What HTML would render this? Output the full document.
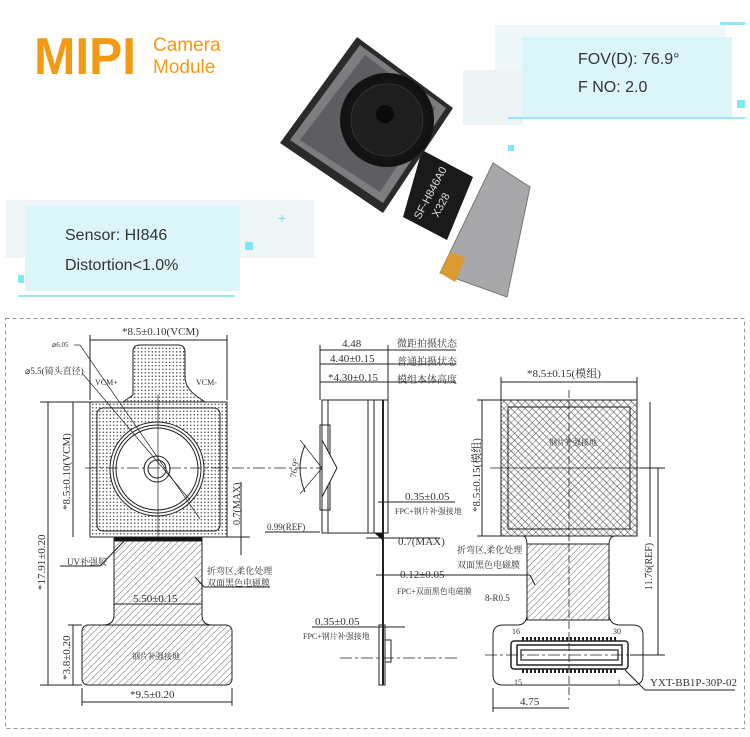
<!DOCTYPE html>
<html><head><meta charset="utf-8"><style>
html,body{margin:0;padding:0;background:#fff;}
svg{display:block}
.s{font-family:"Liberation Serif","Noto Serif CJK SC",serif;fill:#333;}
</style></head><body>
<svg width="750" height="737" viewBox="0 0 750 737" xmlns="http://www.w3.org/2000/svg">
<defs>
<pattern id="dots" width="3.5" height="3.5" patternUnits="userSpaceOnUse"><rect width="4" height="4" fill="#fff"/><circle cx="1.75" cy="1.75" r="0.8" fill="#555"/></pattern>
<pattern id="hatch" width="4.5" height="4.5" patternUnits="userSpaceOnUse" patternTransform="rotate(45)"><rect width="5" height="5" fill="#fff"/><line x1="0" y1="0" x2="0" y2="5" stroke="#444" stroke-width="0.8"/></pattern>
<pattern id="xhatch" width="5" height="5" patternUnits="userSpaceOnUse" patternTransform="rotate(45)"><rect width="6" height="6" fill="#fff"/><line x1="0" y1="0" x2="0" y2="6" stroke="#444" stroke-width="0.8"/><line x1="0" y1="2.5" x2="6" y2="2.5" stroke="#444" stroke-width="0.6"/></pattern>
<radialGradient id="lens" cx="0.5" cy="0.5" r="0.5"><stop offset="0" stop-color="#222"/><stop offset="1" stop-color="#111"/></radialGradient>
</defs>
<rect width="750" height="737" fill="#fff"/>

<text x="34" y="74" font-family="Liberation Sans,sans-serif" font-weight="bold" font-size="52" fill="#f39a12" textLength="102" lengthAdjust="spacingAndGlyphs">MIPI</text>
<text x="153" y="51" font-family="Liberation Sans,sans-serif" font-size="19" fill="#f39a12">Camera</text>
<text x="153" y="73" font-family="Liberation Sans,sans-serif" font-size="19" fill="#f39a12">Module</text>

<rect x="495" y="25" width="230" height="85" fill="#eef8fb"/>
<rect x="463" y="70" width="60" height="55" fill="#eef3f5"/>
<rect x="522" y="37" width="210" height="80" fill="#dcf5f9"/>
<line x1="508" y1="118" x2="745" y2="118" stroke="#7fe0f0" stroke-width="1.5"/>
<rect x="720" y="22" width="25" height="3" fill="#8ee8f5"/>
<rect x="737" y="100" width="8" height="8" fill="#7fe8f8"/>
<rect x="508" y="145" width="6" height="6" fill="#7fe8f8"/>
<text x="578" y="64" font-family="Liberation Sans,sans-serif" font-size="16" fill="#333">FOV(D): 76.9°</text>
<text x="578" y="92" font-family="Liberation Sans,sans-serif" font-size="16" fill="#333">F NO: 2.0</text>

<rect x="5" y="200" width="310" height="58" fill="#f0f5f7"/>
<rect x="25" y="206" width="215" height="85" fill="#dcf5f9"/>
<line x1="18" y1="296" x2="235" y2="296" stroke="#7fe0f0" stroke-width="1.5"/>
<rect x="245" y="242" width="8" height="8" fill="#7fe8f8"/>
<rect x="18" y="275" width="6" height="8" fill="#7fe8f8"/>
<text x="278" y="223" font-family="Liberation Sans,sans-serif" font-size="14" fill="#7fd8ee">+</text>
<text x="65" y="240" font-family="Liberation Sans,sans-serif" font-size="16" fill="#333">Sensor: HI846</text>
<text x="65" y="270" font-family="Liberation Sans,sans-serif" font-size="16" fill="#333">Distortion&lt;1.0%</text>

<polygon points="440,273 493,163 530,187 507,297" fill="#a8a8aa" stroke="#777" stroke-width="1"/>
<polygon points="440,273 450,252 465,258 455,282" fill="#d99a30"/>
<polygon points="403,217 422,150 473,177 447,240" fill="#1a1a1a"/>
<polygon points="357,37 453,108 383,213 280,143" fill="#2a2a2a"/>
<polygon points="360,45 446,108 383,203 290,140" fill="#7d7d80"/>
<polygon points="365,55 436,108 380,192 300,140" fill="#5e5e62"/>
<circle cx="387" cy="120" r="47" fill="url(#lens)"/>
<circle cx="387" cy="120" r="36" fill="#1e1e1e" stroke="#333"/>
<circle cx="385" cy="114" r="9" fill="#0a0a0a"/>
<text x="0" y="0" transform="translate(420,220) rotate(-62)" font-family="Liberation Sans,sans-serif" font-size="11" fill="#ddd">SF-H846A0</text>
<text x="0" y="0" transform="translate(438,218) rotate(-62)" font-family="Liberation Sans,sans-serif" font-size="11" fill="#ddd">X328</text>

<rect x="5.5" y="318.5" width="739" height="410" fill="none" stroke="#999" stroke-dasharray="4,3"/>

<g stroke="#222" fill="none" stroke-width="1">
<path d="M133,352 q0,-7 7,-7 h38 q7,0 7,7 v25 q0,10 10,18 l10,7 H123 l10,-7 q0,-5 0,-18 z" fill="url(#dots)"/>
<rect x="90" y="402" width="137" height="135" fill="url(#dots)"/>
<rect x="97" y="408" width="123" height="123" rx="6"/>
<circle cx="157" cy="469" r="47" fill="#fff"/>
<circle cx="157" cy="469" r="44"/>
<circle cx="157" cy="469" r="41"/>
<circle cx="157" cy="469" r="13"/>
<circle cx="157" cy="469" r="9"/>
<line x1="74" y1="345" x2="80" y2="345" stroke-width="0.7"/>
<line x1="80" y1="345" x2="200" y2="519" stroke-width="0.7"/>
<line x1="82" y1="373" x2="190" y2="500" stroke-width="0.7"/>
<line x1="85" y1="468" x2="330" y2="468" stroke-dasharray="12,3,3,3" stroke-width="0.8"/>
<line x1="158" y1="395" x2="158" y2="545" stroke-width="0.7"/>
<rect x="114" y="537" width="88" height="4" fill="#111"/>
<path d="M114,541 h88 v74 q0,10 10,10 H103 q11,0 11,-10 z" fill="url(#hatch)"/>
<rect x="82" y="625" width="150" height="60" rx="6" fill="url(#hatch)"/>
<line x1="90" y1="340" x2="227" y2="340"/>
<line x1="90" y1="335" x2="90" y2="400"/><line x1="227" y1="335" x2="227" y2="400"/>
<line x1="73" y1="402" x2="73" y2="537"/>
<line x1="48" y1="402" x2="48" y2="685"/>
<line x1="40" y1="402" x2="90" y2="402"/><line x1="40" y1="685" x2="82" y2="685"/>
<line x1="73" y1="625" x2="73" y2="685"/><line x1="68" y1="625" x2="82" y2="625"/>
<line x1="82" y1="702" x2="232" y2="702"/>
<line x1="82" y1="688" x2="82" y2="706"/><line x1="232" y1="688" x2="232" y2="706"/>
<line x1="114" y1="604" x2="202" y2="604"/>
<line x1="241" y1="482" x2="241" y2="555"/><line x1="227" y1="537" x2="250" y2="537"/>
<line x1="60" y1="566" x2="100" y2="566"/><line x1="100" y1="566" x2="125" y2="540"/>
<line x1="204" y1="587" x2="270" y2="587"/><line x1="204" y1="587" x2="195" y2="577"/>

<rect x="322" y="400" width="66" height="133"/>
<line x1="328" y1="400" x2="328" y2="533"/>
<line x1="368" y1="400" x2="368" y2="533"/>
<line x1="374" y1="400" x2="374" y2="533"/>
<line x1="383" y1="400" x2="383" y2="533" stroke-width="2"/>
<rect x="320" y="425" width="10" height="85"/>
<polygon points="322,440 337,468 322,497" fill="#fff"/>
<path d="M305,445 q-10,23 0,47" />
<line x1="322" y1="468" x2="300" y2="440" stroke-width="0.7"/>
<line x1="322" y1="468" x2="300" y2="494" stroke-width="0.7"/>
<line x1="383" y1="533" x2="383" y2="685" stroke-width="2"/>
<rect x="379" y="625" width="6" height="60"/>
<rect x="385" y="640" width="6" height="22"/>
<line x1="340" y1="658" x2="460" y2="658" stroke-dasharray="12,3,3,3" stroke-width="0.8"/>
<line x1="320" y1="350" x2="456" y2="350"/>
<line x1="320" y1="364" x2="456" y2="364"/>
<line x1="320" y1="382" x2="456" y2="382"/>
<line x1="320" y1="345" x2="320" y2="400"/><line x1="388" y1="345" x2="388" y2="400"/>
<line x1="378" y1="502" x2="455" y2="502"/>
<line x1="366" y1="538" x2="440" y2="538"/>
<line x1="376" y1="575" x2="455" y2="575"/>
<line x1="312" y1="627" x2="405" y2="627"/>
<line x1="265" y1="532" x2="320" y2="532"/>
<polygon points="383,533 375,533 383,540" fill="#111"/>
<line x1="650" y1="402" x2="650" y2="537"/>

<rect x="501" y="400" width="136" height="136" fill="url(#xhatch)"/>
<rect x="508" y="407" width="122" height="122"/>
<path d="M523,536 h92 q-6,0 -6,10 v68 q0,10 10,11 h14 q10,0 10,10 v40 q0,10 -10,10 H503 q-10,0 -10,-10 v-40 q0,-10 10,-10 h14 q10,0 10,-11 v-68 q0,-10 -4,-10 z" fill="#fff"/>
<rect x="527" y="544" width="82" height="76" fill="url(#hatch)"/>
<rect x="511" y="641" width="117" height="28" rx="3" fill="#fff" stroke-width="1.5"/>
<rect x="517" y="645" width="105" height="20" stroke-width="1.5"/>
<rect x="521" y="650" width="97" height="10" stroke-width="1.2"/>
<path d="M523,641 v-4 M527,641 v-4 M531,641 v-4 M535,641 v-4 M539,641 v-4 M543,641 v-4 M547,641 v-4 M551,641 v-4 M555,641 v-4 M559,641 v-4 M563,641 v-4 M567,641 v-4 M571,641 v-4 M575,641 v-4 M579,641 v-4 M583,641 v-4 M587,641 v-4 M591,641 v-4 M595,641 v-4 M599,641 v-4 M603,641 v-4 M607,641 v-4 M611,641 v-4 M615,641 v-4" stroke-width="2"/>
<path d="M523,669 v4 M527,669 v4 M531,669 v4 M535,669 v4 M539,669 v4 M543,669 v4 M547,669 v4 M551,669 v4 M555,669 v4 M559,669 v4 M563,669 v4 M567,669 v4 M571,669 v4 M575,669 v4 M579,669 v4 M583,669 v4 M587,669 v4 M591,669 v4 M595,669 v4 M599,669 v4 M603,669 v4 M607,669 v4 M611,669 v4 M615,669 v4" stroke-width="2"/>
<line x1="569" y1="390" x2="569" y2="700" stroke-dasharray="8,3" stroke-width="0.8"/>
<line x1="490" y1="468" x2="640" y2="468" stroke-width="0.8"/>
<line x1="485" y1="655" x2="650" y2="655" stroke-dasharray="12,3,3,3" stroke-width="0.8"/>
<line x1="501" y1="382" x2="637" y2="382"/>
<line x1="501" y1="377" x2="501" y2="400"/><line x1="637" y1="377" x2="637" y2="400"/>
<line x1="482" y1="400" x2="482" y2="536"/>
<line x1="477" y1="400" x2="501" y2="400"/><line x1="477" y1="536" x2="501" y2="536"/>
<line x1="658" y1="468" x2="658" y2="655"/>
<line x1="640" y1="468" x2="665" y2="468"/><line x1="630" y1="655" x2="665" y2="655"/>
<line x1="493" y1="708" x2="569" y2="708"/>
<line x1="493" y1="688" x2="493" y2="712"/>
<line x1="625" y1="670" x2="645" y2="690"/><line x1="645" y1="690" x2="735" y2="690"/>
<line x1="453" y1="575" x2="530" y2="575"/><line x1="530" y1="575" x2="535" y2="585"/>
</g>

<g class="s" font-size="11">
<text x="122" y="335">*8.5±0.10(VCM)</text>
<text x="52" y="347" font-size="7">⌀6.05</text>
<text x="25" y="374" font-size="9">⌀5.5(镜头直径)</text>
<text x="95" y="385" font-size="8">VCM+</text>
<text x="196" y="385" font-size="8">VCM-</text>
<text transform="translate(70,510) rotate(-90)">*8.5±0.10(VCM)</text>
<text transform="translate(45,590) rotate(-90)">*17.91±0.20</text>
<text transform="translate(70,680) rotate(-90)">*3.8±0.20</text>
<text transform="translate(240,525) rotate(-90)" font-size="10">0.7(MAX)</text>
<text x="67" y="565" font-size="9">UV补强胶</text>
<text x="207" y="574" font-size="9">折弯区,柔化处理</text>
<text x="207" y="586" font-size="9">双面黑色电磁膜</text>
<text x="133" y="602">5.50±0.15</text>
<text x="132" y="659" font-size="8">钢片补强接地</text>
<text x="130" y="698">*9.5±0.20</text>

<text x="342" y="347">4.48</text>
<text x="330" y="362">4.40±0.15</text>
<text x="328" y="381">*4.30±0.15</text>
<text x="397" y="347" font-size="10">微距拍摄状态</text>
<text x="397" y="365" font-size="10">普通拍摄状态</text>
<text x="397" y="383" font-size="10">模组本体高度</text>
<text transform="translate(296,478) rotate(-80)" font-size="9">76.9°</text>
<text x="405" y="500">0.35±0.05</text>
<text x="395" y="514" font-size="8">FPC+钢片补强接地</text>
<text x="267" y="530" font-size="9">0.99(REF)</text>
<text x="398" y="545">0.7(MAX)</text>
<text x="400" y="578">0.12±0.05</text>
<text x="397" y="594" font-size="8">FPC+双面黑色电磁膜</text>
<text x="315" y="625">0.35±0.05</text>
<text x="303" y="639" font-size="8">FPC+钢片补强接地</text>

<text x="527" y="377">*8.5±0.15(模组)</text>
<text transform="translate(480,512) rotate(-90)">*8.5±0.15(模组)</text>
<text x="549" y="445" font-size="8">钢片补强接地</text>
<text transform="translate(652,590) rotate(-90)" font-size="10">11.76(REF)</text>
<text x="457" y="553" font-size="9">折弯区,柔化处理</text>
<text x="457" y="568" font-size="9">双面黑色电磁膜</text>
<text x="485" y="601" font-size="9">8-R0.5</text>
<text x="512" y="634" font-size="8">16</text>
<text x="613" y="634" font-size="8">30</text>
<text x="514" y="685" font-size="8">15</text>
<text x="617" y="685" font-size="8">1</text>
<text x="650" y="686">YXT-BB1P-30P-02</text>
<text x="520" y="705">4.75</text>
</g>
</svg>
</body></html>
